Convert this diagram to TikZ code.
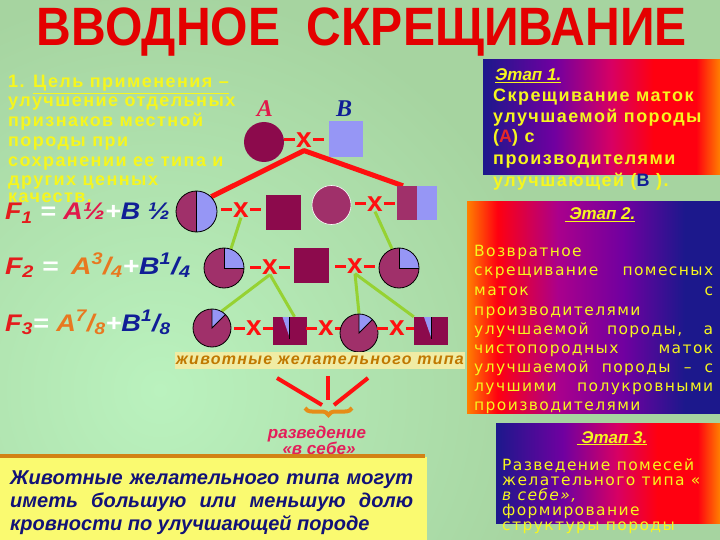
\documentclass[tikz,border=0pt]{standalone}
\usepackage{fontspec}
\setmainfont{Liberation Sans}
\newfontfamily\lsp[LetterSpace=8]{Liberation Sans}
\newfontfamily\dvs[LetterSpace=9]{DejaVu Sans}
\newfontfamily\serf{Liberation Serif}
\usetikzlibrary{decorations.pathreplacing,backgrounds}
\definecolor{bgA}{RGB}{166,212,160}
\definecolor{bgB}{RGB}{186,242,190}
\definecolor{ttl}{RGB}{228,0,0}
\definecolor{ylw}{RGB}{246,246,30}
\definecolor{mgD}{RGB}{140,10,76}
\definecolor{mgL}{RGB}{160,48,106}
\definecolor{pw}{RGB}{150,150,245}
\definecolor{xred}{RGB}{255,16,16}
\definecolor{gline}{RGB}{150,210,50}
\definecolor{fred}{RGB}{228,28,28}
\definecolor{acr}{RGB}{225,25,75}
\definecolor{aor}{RGB}{232,120,32}
\definecolor{bbl}{RGB}{16,30,150}
\definecolor{nvy}{RGB}{28,24,140}
\definecolor{prp}{RGB}{112,0,160}
\definecolor{mgr}{RGB}{215,0,100}
\definecolor{mgp}{RGB}{170,0,140}
\definecolor{rr}{RGB}{255,0,16}
\definecolor{org}{RGB}{255,128,0}
\definecolor{brn}{RGB}{192,120,0}
\definecolor{pyl}{RGB}{240,236,164}
\definecolor{byl}{RGB}{250,250,112}
\definecolor{dbl}{RGB}{18,18,120}
\definecolor{rzv}{RGB}{228,30,90}
\definecolor{brc}{RGB}{230,140,24}
\definecolor{bline}{RGB}{210,130,20}
\definecolor{ared}{RGB}{230,40,40}

\pgfdeclarehorizontalshading{stA}{100bp}{color(0bp)=(nvy); color(25bp)=(nvy); color(40bp)=(prp); color(52bp)=(mgr); color(61bp)=(rr); color(70bp)=(rr); color(75bp)=(org); color(100bp)=(org)}
\pgfdeclarehorizontalshading{stB}{100bp}{color(0bp)=(org); color(25bp)=(org); color(31bp)=(rr); color(43bp)=(mgp); color(56bp)=(prp); color(68bp)=(nvy); color(75bp)=(nvy); color(100bp)=(nvy)}

\newcommand\frc[2]{\textsuperscript{#1}/\textsubscript{#2}}
\newcommand\xd[1]{\draw[xdash] ([xshift=-1pt]#1.west) -- ++(-11,0); \draw[xdash] ([xshift=1pt]#1.east) -- ++(11,0);}

\tikzset{
  ylwtxt/.style={text=ylw, inner sep=0, anchor=base west},
  lblock/.style={ylwtxt, font=\lsp\fontsize{18}{19}\selectfont\bfseries},
  st1/.style={ylwtxt, font=\lsp\fontsize{18}{19}\selectfont\bfseries},
  st2/.style={ylwtxt, font=\dvs\fontsize{15.5}{17}\selectfont},
  st3/.style={ylwtxt, font=\dvs\fontsize{15.5}{17}\selectfont},
  sthead/.style={text=ylw, inner sep=0, anchor=base, font=\fontsize{17}{19}\selectfont\bfseries\itshape},
  fml/.style={inner sep=0, anchor=base west, font=\fontsize{24}{26}\selectfont\bfseries\itshape},
  crs/.style={text=xred, inner sep=0, font=\fontsize{28}{28}\selectfont\bfseries},
  xdash/.style={draw=xred, line width=3},
  rline/.style={draw=xred, line width=5},
  gl/.style={draw=gline, line width=3},
  dsq/.style={fill=mgD, inner sep=0, minimum width=35, minimum height=35},
  lbl/.style={inner sep=0, font=\serf\fontsize{24}{24}\selectfont\bfseries\itshape},
  halfc/.style={circle, draw=black, line width=0.8, fill=mgL, inner sep=0, minimum size=41,
    path picture={\fill[pw] (path picture bounding box.south) rectangle (path picture bounding box.north east);
      \draw[line width=0.8] (path picture bounding box.south) -- (path picture bounding box.north);}},
  hsq/.style={inner sep=0, minimum width=40, minimum height=34,
    path picture={\fill[mgL] (path picture bounding box.south west) rectangle (path picture bounding box.north);
      \fill[pw] (path picture bounding box.south) rectangle (path picture bounding box.north east);}},
  pie4/.style={circle, draw=black, line width=0.8, fill=mgL, inner sep=0, minimum size=#1,
    path picture={\fill[pw] (path picture bounding box.center) rectangle (path picture bounding box.north east);
      \draw[line width=0.8] (path picture bounding box.north) -- (path picture bounding box.center) -- (path picture bounding box.east);}},
  pie8/.style={circle, draw=black, line width=0.8, fill=mgL, inner sep=0, minimum size=#1,
    path picture={\fill[pw] (path picture bounding box.center) -- (path picture bounding box.north) -- (path picture bounding box.north east) -- cycle;
      \draw[line width=0.8] (path picture bounding box.north) -- (path picture bounding box.center) -- (path picture bounding box.north east);}},
  slsq/.style={fill=mgD, inner sep=0, minimum width=34, minimum height=28,
    path picture={\fill[pw] ([xshift=-7pt]path picture bounding box.north) -- (path picture bounding box.north) -- ([yshift=-20pt]path picture bounding box.north) -- cycle;
      \draw[line width=0.8] (path picture bounding box.north) -- ([yshift=-22pt]path picture bounding box.north);}},
}

\begin{document}
\begin{tikzpicture}[x=1pt,y=-1pt]
\useasboundingbox (0,0) rectangle (720,540);
\begin{pgfonlayer}{background}
\fill[bgA] (0,0) rectangle (720,540);
\begin{scope}
\clip (0,0) rectangle (720,540);
\shade[inner color=bgB, outer color=bgA] (160,390) circle[radius=400];
\end{scope}
\end{pgfonlayer}

% title
\node[font=\fontsize{54}{54}\selectfont\bfseries, text=ttl, anchor=base, inner sep=0] (title) at (362,46) {\scalebox{0.89}[1]{ВВОДНОЕ\ \ СКРЕЩИВАНИЕ}};

% left block
\node[lblock] (l1) at (8,88) {1. \underline{Цель применения –}};
\node[lblock] (l2) at (8,107) {улучшение отдельных};
\node[lblock] (l3) at (8,127) {признаков местной};
\node[lblock] (l4) at (8,147) {породы при};
\node[lblock] (l5) at (8,167) {сохранении ее типа и};
\node[lblock] (l6) at (8,186) {других ценных};
\node[lblock] (l7) at (8,203) {качеств.};

% formulas
\node[fml] (f1) at (5,220) {\scalebox{1.12}[1]{\textcolor{fred}{F\textsubscript{1}} \textcolor{white}{=} \textcolor{acr}{A½}\textcolor{white}{+}\textcolor{bbl}{B ½}}};
\node[fml] (f2) at (5,274) {\scalebox{1.18}[1]{\textcolor{fred}{F\textsubscript{2}} \textcolor{white}{=} \,\textcolor{aor}{A\frc{3}{4}}\textcolor{white}{+}\textcolor{bbl}{B\frc{1}{4}}}};
\node[fml] (f3) at (5,331) {\scalebox{1.13}[1]{\textcolor{fred}{F\textsubscript{3}}\textcolor{white}{=} \textcolor{aor}{A\frc{7}{8}}\textcolor{white}{+}\textcolor{bbl}{B\frc{1}{8}}}};

% parents
\node[lbl, text=acr] (lA) at (265,109) {A};
\node[lbl, text=bbl] (lB) at (344,109) {B};
\node[circle, fill=mgD, inner sep=0, minimum size=40] (pA) at (264,142) {};
\node[fill=pw, inner sep=0, minimum width=34, minimum height=36] (pB) at (346,139) {};
\node[crs] (x1) at (304,140) {x};
\xd{x1}

% F1
\node[halfc] (h1) at (196.5,211.5) {};
\node[crs] (x2) at (241,210) {x};
\xd{x2}
\node[dsq] (q1) at (283.5,212.5) {};
\node[circle, fill=mgL, draw=white, line width=0.6, inner sep=0, minimum size=39] (c1) at (331.5,205) {};
\node[crs] (x3) at (375,204) {x};
\xd{x3}
\node[hsq] (hs) at (417,203) {};

% F2
\node[pie4=40] (p1) at (224,268) {};
\node[crs] (x4) at (270,267) {x};
\xd{x4}
\node[dsq] (q2) at (311.5,265.5) {};
\node[crs] (x5) at (355,266) {x};
\xd{x5}
\node[pie4=40] (p2) at (399,268) {};

% F3
\node[pie8=38] (p3) at (212,328) {};
\node[crs] (x6) at (254,328) {x};
\xd{x6}
\node[slsq] (s3) at (289.5,331) {};
\node[crs] (x7) at (326,328) {x};
\xd{x7}
\node[pie8=38] (p4) at (359,333) {};
\node[crs] (x8) at (397,328) {x};
\xd{x8}
\node[slsq] (s4) at (431,331) {};

\begin{pgfonlayer}{background}
\draw[rline, line join=round] (h1.north east) -- ([yshift=-3pt]x1.south) -- ([xshift=-14pt]hs.north);
\draw[gl] (x2.south) -- (p1.70);
\draw[gl] (x3.south) -- (p2.110);
\draw[gl] (x4.south) -- (p3.60);
\draw[gl] (x4.south) -- ([xshift=5pt]s3.north);
\draw[gl] (x5.south) -- (p4.north);
\draw[gl] (x5.south) -- (s4.north west);
\end{pgfonlayer}

% desired type label
\node[fill=pyl, inner sep=0, minimum width=290, minimum height=17, text=brn, font=\lsp\fontsize{16}{16}\selectfont\bfseries\itshape] (lbl) at (320,360) {животные желательного типа};
\coordinate (cL) at (277,378); \coordinate (cM) at (328,376); \coordinate (cR) at (368,378);
\coordinate (eL) at (322,405); \coordinate (eM) at (328,400); \coordinate (eR) at (334,405);
\draw[rline, line width=4] (cL) -- (eL);
\draw[rline, line width=4] (cM) -- (eM);
\draw[rline, line width=4] (cR) -- (eR);
\coordinate (bra) at (305,408); \coordinate (brb) at (352,408);
\draw[brc, line width=4, decorate, decoration={brace, amplitude=7pt, mirror}] (bra) -- (brb);
\node[text=rzv, font=\fontsize{17}{17}\selectfont\bfseries\itshape, anchor=base, inner sep=0] (rz1) at (317,438) {разведение};
\node[text=rzv, font=\fontsize{17}{17}\selectfont\bfseries\itshape, anchor=base, inner sep=0] (rz2) at (319,454) {«в себе»};

% bottom box
\fill[byl] (0,457) rectangle (427,540);
\draw[bline, line width=4] (0,456) -- (425,456);
\node[font=\fontsize{20}{22}\selectfont\bfseries\itshape, text=dbl, anchor=base west, inner sep=0] (bt1) at (10,484) {\makebox[403pt][s]{Животные желательного типа могут}};
\node[font=\fontsize{20}{22}\selectfont\bfseries\itshape, text=dbl, anchor=base west, inner sep=0] (bt2) at (10,507) {\makebox[403pt][s]{иметь большую или меньшую долю}};
\node[font=\fontsize{20}{22}\selectfont\bfseries\itshape, text=dbl, anchor=base west, inner sep=0] (bt3) at (10,530) {кровности по улучшающей породе};

% stage 1
\shade[shading=stA] (483,60) rectangle (720,175);
\node[sthead, anchor=base west] (e1) at (495,81) {\underline{Этап 1.}};
\node[st1] (b1a) at (493,102) {Скрещивание маток};
\node[st1] (b1b) at (493,123) {улучшаемой породы};
\node[st1] (b1c) at (493,143) {(\textcolor{ared}{А}) с};
\node[st1] (b1d) at (493,165) {производителями};
\node[st1] (b1e) at (493,187) {улучшающей (\textcolor{bbl}{В} ).};

% stage 2
\shade[shading=stB] (467,202) rectangle (720,413);
\node[sthead] (e2) at (600,220) {\underline{\ Этап 2.}};
\node[st2] (b2a) at (474,256) {Возвратное};
\node[st2] (b2b) at (474,275) {\makebox[239pt][s]{скрещивание помесных}};
\node[st2] (b2c) at (474,295) {\makebox[239pt][s]{маток с}};
\node[st2] (b2d) at (474,315) {производителями};
\node[st2] (b2e) at (474,334) {\makebox[239pt][s]{улучшаемой породы, а}};
\node[st2] (b2f) at (474,353) {\makebox[239pt][s]{чистопородных маток}};
\node[st2] (b2g) at (474,372) {\makebox[239pt][s]{улучшаемой породы – с}};
\node[st2] (b2h) at (474,391) {\makebox[239pt][s]{лучшими полукровными}};
\node[st2] (b2i) at (474,410) {производителями};

% stage 3
\shade[shading=stA] (496,423) rectangle (720,523);
\node[sthead] (e3) at (612,443) {\underline{\ Этап 3.}};
\node[st3] (b3a) at (502,470) {Разведение помесей};
\node[st3] (b3b) at (502,485) {желательного типа «};
\node[st3] (b3c) at (502,500) {\itshape в себе»,};
\node[st3] (b3d) at (502,515) {формирование};
\node[st3] (b3e) at (502,530) {структуры породы};
\end{tikzpicture}
\end{document}
